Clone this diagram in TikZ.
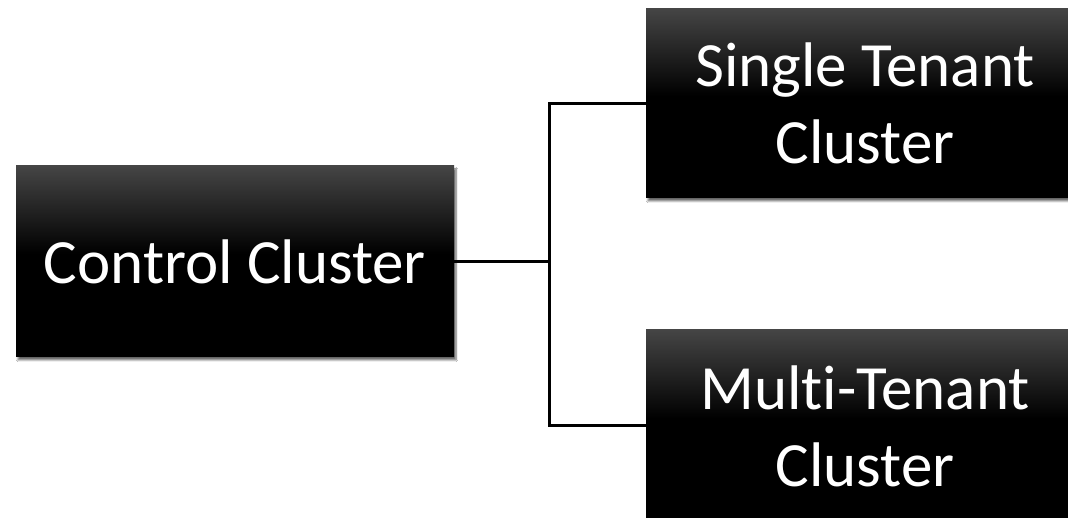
\documentclass[tikz,border=0pt]{standalone}
\usepackage{fontspec}
\setmainfont{Carlito}[Ligatures={NoCommon}]
\usetikzlibrary{shadows.blur}
\pgfdeclareverticalshading{boxshade}{100bp}{color(0bp)=(black); color(25bp)=(black); color(52bp)=(black); color(75bp)=(black!73); color(100bp)=(black!73)}
\tikzset{
  box/.style={rectangle, minimum width=438pt, inner sep=0pt, align=center,
    text=white, font=\fontsize{63}{77}\selectfont,
    shading=boxshade,
    blur shadow={shadow xshift=2pt, shadow yshift=-3pt, shadow blur steps=6, shadow opacity=60}},
  link/.style={draw=black, line width=3pt}
}
\begin{document}
\begin{tikzpicture}[x=1pt,y=1pt]
\clip (0,0) rectangle (1068,518);
\fill[white] (0,0) rectangle (1068,518);
\node[box, minimum height=191pt] (ctrl) at (235,256.5) {Control Cluster};
\node[box, minimum height=189pt] (single) at (865,414.5) {Single Tenant\\Cluster};
\node[box, minimum height=192pt] (multi) at (865,92) {Multi-Tenant\\Cluster};
\coordinate (j) at (549,256.5);
\draw[link] (ctrl.east) -- (j);
\draw[link] (j) |- (single.west);
\draw[link] (j) |- (multi.west);
\end{tikzpicture}
\end{document}
